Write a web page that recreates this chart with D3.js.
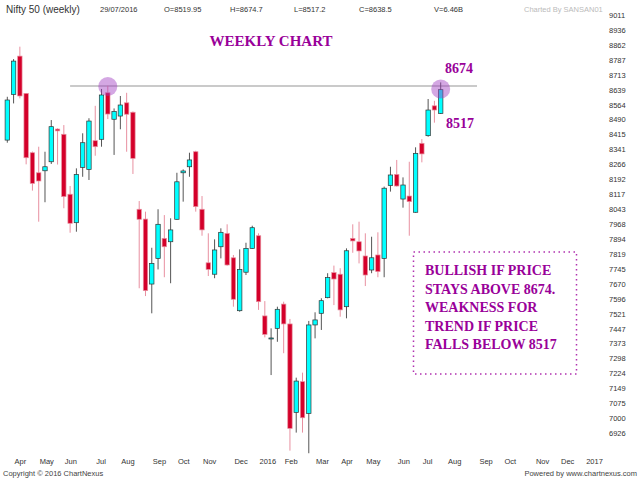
<!DOCTYPE html>
<html>
<head>
<meta charset="utf-8">
<script src="https://cdn.jsdelivr.net/npm/d3@7"></script>
<style>
  body { margin: 0; background: #fff; }
  svg { display: block; }
  .sans { font-family: "Liberation Sans", Arial, sans-serif; }
  .serif { font-family: "Liberation Serif", "Times New Roman", serif; font-weight: bold; }
</style>
</head>
<body>
<div id="wrapper"></div>
<script>
// weekly Nifty 50 candles, one per week from Apr 2015 to 29/07/2016
const opens  = [8387, 8615, 8806, 8620, 8324, 8224, 8234, 8279, 8442, 8416, 8117, 7975, 8251, 8241, 8384, 8391, 8623, 8491, 8507, 8573,
                8526, 8042, 7993, 7669, 7797, 7897, 7880, 7992, 8224, 8254, 8329, 8042, 7775, 7718, 7855, 7922, 7800, 7536, 7728, 7847,
                7910, 7510, 7395, 7448, 7569, 7470, 7029, 7182, 7024, 7465, 7523, 7601, 7726, 7718, 7556, 7897, 7880, 7809, 7739, 7814,
                7797, 8160, 8216, 8093, 8108, 8027, 8371, 8409, 8558, 8519.95]
const highs  = [8603, 8791, 8853, 8622, 8330, 8354, 8329, 8487, 8446, 8462, 8158, 8246, 8421, 8496, 8558, 8642, 8658, 8545, 8607, 8623,
                8530, 8083, 8030, 7850, 8042, 8013, 7997, 8224, 8241, 8324, 8334, 8108, 7922, 7892, 7947, 7967, 7814, 7842, 7875, 7960,
                7922, 7584, 7448, 7556, 7581, 7495, 7202, 7227, 7485, 7528, 7598, 7723, 7761, 7748, 7847, 7967, 7980, 7922, 7905, 7927,
                8155, 8254, 8288, 8201, 8279, 8351, 8392, 8592, 8583, 8674.7]
const lows   = [8374, 8570, 8595, 8266, 8135, 7980, 8077, 8268, 8265, 8047, 7925, 7930, 8204, 8188, 8309, 8354, 8492, 8313, 8441, 8329,
                8218, 7648, 7609, 7523, 7742, 7703, 7673, 7990, 8080, 8204, 8030, 7910, 7709, 7698, 7797, 7760, 7556, 7531, 7714, 7845,
                7540, 7403, 7215, 7381, 7324, 6838, 6928, 6928, 6825, 7398, 7440, 7598, 7564, 7506, 7498, 7825, 7772, 7659, 7723, 7703,
                7703, 8130, 8155, 8050, 7910, 8025, 8276, 8404, 8474, 8517.2]
const closes = [8587, 8781, 8607, 8299, 8171, 8183, 8254, 8454, 8433, 8105, 7972, 8216, 8374, 8482, 8354, 8612, 8517, 8530, 8562, 8516,
                8296, 7992, 7636, 7772, 7967, 7855, 7939, 8179, 8233, 8288, 8055, 7939, 7742, 7839, 7927, 7764, 7593, 7742, 7847, 7950,
                7581, 7418, 7400, 7543, 7470, 6949, 7185, 7002, 7465, 7490, 7586, 7701, 7694, 7540, 7835, 7884, 7834, 7714, 7800, 7731,
                8147, 8213, 8158, 8163, 8080, 8321, 8318, 8537, 8537, 8638.5]

const yTicks = [9011, 8936, 8862, 8787, 8713, 8639, 8564, 8490, 8415, 8341, 8266, 8192, 8117, 8043, 7968, 7894, 7819,
                7745, 7670, 7596, 7521, 7447, 7373, 7298, 7224, 7149, 7075, 7000, 6926]

const monthLabels = ['Apr', 'May', 'Jun', 'Jul', 'Aug', 'Sep', 'Oct', 'Nov', 'Dec', '2016', 'Feb', 'Mar', 'Apr', 'May', 'Jun', 'Jul',
                     'Aug', 'Sep', 'Oct', 'Nov', 'Dec', '2017']
const monthWeeks = [1, 5, 9, 14, 18, 23, 27, 31, 36, 40, 44, 49, 53, 57, 62, 66, 70, 75, 79, 84, 88, 92]

const headerItems = ['29/07/2016', 'O=8519.95', 'H=8674.7', 'L=8517.2', 'C=8638.5', 'V=6.46B']
const levels = [8674, 8517]
const markedWeeks = [16, 69]
const noteLines = ['BULLISH IF PRICE', 'STAYS ABOVE 8674.', 'WEAKNESS FOR', 'TREND IF PRICE', 'FALLS BELOW 8517']

const width = 640, height = 480
const purple = '#990099'

const svg = d3.select('#wrapper').append('svg')
    .attr('width', width)
    .attr('height', height)

const candles = opens.map((o, i) => ({ i, o, h: highs[i], l: lows[i], c: closes[i] }))

const x = d3.scaleLinear().domain([0, 69]).range([7.3, 440.7])
const y = d3.scaleLinear().domain([6926, 9011]).range([433, 15])

// header
svg.append('text').attr('class', 'sans')
    .attr('x', 6).attr('y', 13)
    .attr('font-size', 10).attr('fill', '#333')
    .text('Nifty 50 (weekly)')

const headerX = [100, 164, 230, 294, 359, 434]
svg.selectAll('.hdr').data(headerItems).enter().append('text')
    .attr('class', 'sans hdr')
    .attr('x', (d, i) => headerX[i]).attr('y', 12)
    .attr('font-size', 7.5).attr('fill', '#333')
    .text(d => d)

svg.append('text').attr('class', 'sans')
    .attr('x', 524).attr('y', 12)
    .attr('font-size', 7.5).attr('fill', '#bbb')
    .text('Charted By SANSAN01')

// y labels on the right
svg.selectAll('.ytick').data(yTicks).enter().append('text')
    .attr('class', 'sans ytick')
    .attr('x', 609).attr('y', d => y(d) + 3)
    .attr('font-size', 7.5).attr('fill', '#333')
    .text(d => d)

// month labels
svg.selectAll('.xtick').data(monthLabels).enter().append('text')
    .attr('class', 'sans xtick')
    .attr('x', (d, i) => x(monthWeeks[i]) + 1).attr('y', 464)
    .attr('font-size', 7.5).attr('fill', '#333')
    .text(d => d)

// resistance line
const lineY = y(levels[0]) + 3.5
svg.append('line')
    .attr('x1', x(10)).attr('x2', 477)
    .attr('y1', lineY).attr('y2', lineY)
    .attr('stroke', '#b8b8b8').attr('stroke-width', 1.5)

// candles
const g = svg.append('g')
const bw = 4.4

g.selectAll('.wick').data(candles).enter().append('line')
    .attr('x1', d => x(d.i)).attr('x2', d => x(d.i))
    .attr('y1', d => y(d.h)).attr('y2', d => y(d.l))
    .attr('stroke', d => d.c >= d.o ? '#555' : '#e890a0')
    .attr('stroke-width', 1)

g.selectAll('.body').data(candles).enter().append('rect')
    .attr('x', d => x(d.i) - bw / 2)
    .attr('y', d => y(Math.max(d.o, d.c)))
    .attr('width', bw)
    .attr('height', d => Math.max(1, Math.abs(y(d.o) - y(d.c))))
    .attr('fill', d => d.c >= d.o ? '#00ffff' : '#d4002a')
    .attr('stroke', d => d.c >= d.o ? '#333' : '#e890a0')
    .attr('stroke-width', 0.7)

// highlight circles
svg.selectAll('.mark').data(markedWeeks).enter().append('circle')
    .attr('cx', d => x(d)).attr('cy', (d, i) => lineY + (i ? 3 : 0.5))
    .attr('r', 9.5)
    .attr('fill', '#a03cc0').attr('opacity', 0.45)

// level labels
svg.append('text').attr('class', 'serif')
    .attr('x', 445).attr('y', 73)
    .attr('font-size', 14).attr('fill', purple)
    .text(levels[0])
svg.append('text').attr('class', 'serif')
    .attr('x', 446).attr('y', 128)
    .attr('font-size', 14).attr('fill', purple)
    .text(levels[1])

svg.append('text').attr('class', 'serif')
    .attr('x', 271).attr('y', 46)
    .attr('text-anchor', 'middle')
    .attr('font-size', 15).attr('fill', purple)
    .text('WEEKLY CHART')

// note box
svg.append('rect')
    .attr('x', 413.5).attr('y', 252)
    .attr('width', 163).attr('height', 122)
    .attr('fill', 'none').attr('stroke', '#b030b0')
    .attr('stroke-width', 1.5).attr('stroke-dasharray', '1.5,3.5')

svg.selectAll('.note').data(noteLines).enter().append('text')
    .attr('class', 'serif note')
    .attr('x', 425).attr('y', (d, i) => 275 + i * 18.5)
    .attr('font-size', 14).attr('fill', purple)
    .text(d => d)

// footer
svg.append('text').attr('class', 'sans')
    .attr('x', 3).attr('y', 476)
    .attr('font-size', 7.5).attr('fill', '#444')
    .text('Copyright © 2016 ChartNexus')
svg.append('text').attr('class', 'sans')
    .attr('x', 637).attr('y', 476)
    .attr('text-anchor', 'end')
    .attr('font-size', 7.5).attr('fill', '#444')
    .text('Powered by www.chartnexus.com')
</script>
</body>
</html>
